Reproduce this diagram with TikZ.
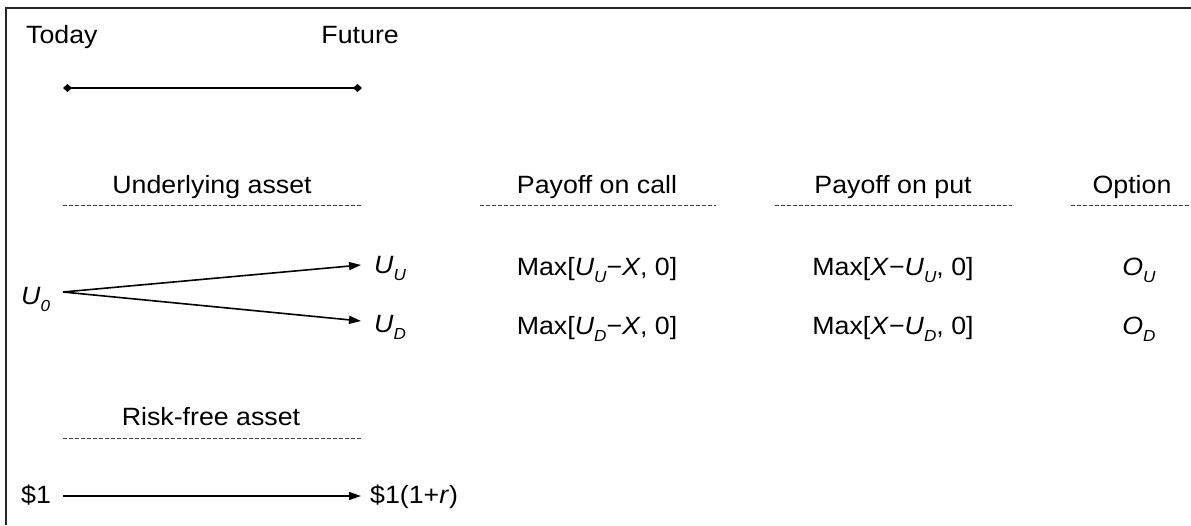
\documentclass[tikz,border=0pt]{standalone}
\usepackage{fontspec}
\setmainfont{Liberation Sans}[FakeStretch=1.07]
\usetikzlibrary{arrows.meta}
\newcommand\lsub[1]{\raisebox{-0.6ex}{\fontsize{16}{16}\selectfont\itshape #1}}
\newcommand\iU{\textit{U}}
\begin{document}
\begin{tikzpicture}[x=1pt,y=-1pt,
  lbl/.style={font=\fontsize{25}{29}\selectfont, inner sep=0pt, anchor=base},
  lblL/.style={lbl, anchor=base west},
  sep/.style={draw=black!75, line width=1pt, dash pattern=on 4pt off 2pt},
  arr/.style={line width=1.6pt, -{Triangle[length=12pt,width=8pt]}},
  tline/.style={line width=1.6pt, {Diamond[length=9pt,width=8pt]}-{Diamond[length=9pt,width=8pt]}},
  frame/.style={draw=black!85, line width=2pt}]
\useasboundingbox (0,0) rectangle (1191,525);
% frame (top and left)
\coordinate (f1) at (6,525);
\coordinate (f2) at (6,8);
\coordinate (f3) at (1191,8);
\draw[frame] (f1) -- (f2) -- (f3);
% time axis
\node[lblL] (today) at (26,43) {Today};
\node[lbl, anchor=base east] (future) at (399,43) {Future};
\coordinate (t0) at (63,88);
\coordinate (t1) at (362,88);
\draw[tline] (t0) -- (t1);
% headers
\node[lbl] (hua) at (212,193) {Underlying asset};
\node[lbl] (hcall) at (597,193) {Payoff on call};
\node[lbl] (hput) at (893,193) {Payoff on put};
\node[lbl] (hopt) at (1132,193) {Option};
\coordinate (d1a) at (63,205);  \coordinate (d1b) at (362,205);
\coordinate (d2a) at (480,205); \coordinate (d2b) at (716,205);
\coordinate (d3a) at (775,205); \coordinate (d3b) at (1012,205);
\coordinate (d4a) at (1071,205); \coordinate (d4b) at (1191,205);
\draw[sep] (d1a) -- (d1b);
\draw[sep] (d2a) -- (d2b);
\draw[sep] (d3a) -- (d3b);
\draw[sep] (d4a) -- (d4b);
% binomial tree
\node[lblL] (U0) at (21,304) {\iU\lsub{0}};
\node[lblL] (UU) at (374,273) {\iU\lsub{U}};
\node[lblL] (UD) at (374,332) {\iU\lsub{D}};
\coordinate (a0) at (63,292);
\coordinate (aU) at (361,265);
\coordinate (aD) at (361,321);
\draw[arr] (a0) -- (aU);
\draw[arr] (a0) -- (aD);
% payoffs
\node[lbl] (cU) at (597,275) {Max[\iU\lsub{U}−\textit{X}, 0]};
\node[lbl] (cD) at (597,334) {Max[\iU\lsub{D}−\textit{X}, 0]};
\node[lbl] (pU) at (893,275) {Max[\textit{X}−\iU\lsub{U}, 0]};
\node[lbl] (pD) at (893,334) {Max[\textit{X}−\iU\lsub{D}, 0]};
\node[lbl] (oU) at (1139,275) {\textit{O}\lsub{U}};
\node[lbl] (oD) at (1139,334) {\textit{O}\lsub{D}};
% risk-free asset
\node[lbl] (hrf) at (211,425) {Risk-free asset};
\coordinate (d5a) at (63,438); \coordinate (d5b) at (362,438);
\draw[sep] (d5a) -- (d5b);
\node[lblL] (b0) at (21,503) {\$1};
\node[lblL] (b1) at (370,503) {\$1(1+\textit{r})};
\coordinate (r0) at (63,496);
\coordinate (r1) at (361,496);
\draw[arr] (r0) -- (r1);
\end{tikzpicture}
\end{document}
